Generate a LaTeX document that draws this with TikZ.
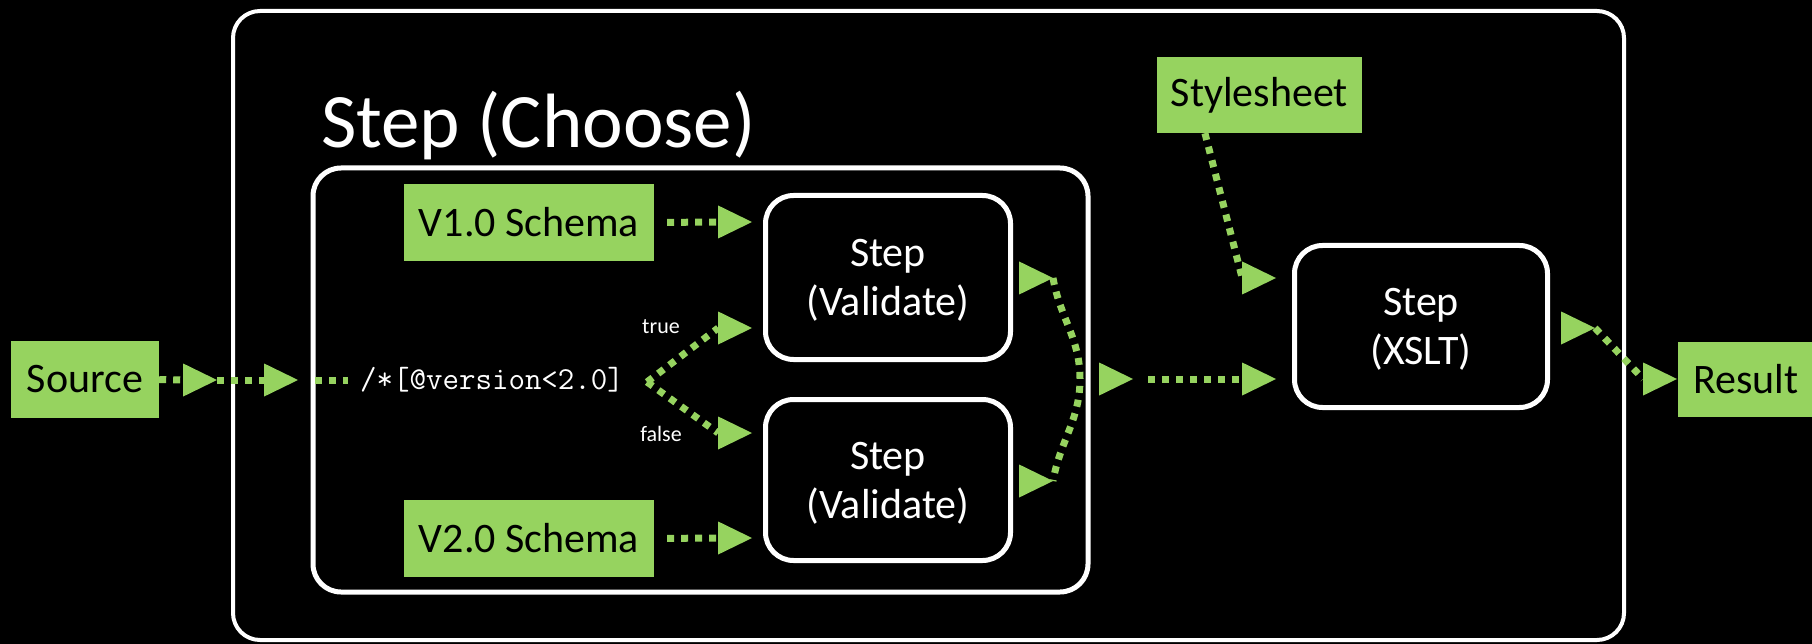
\documentclass[tikz,border=0pt]{standalone}
\usepackage{fontspec}
\setmainfont{Carlito}
\usetikzlibrary{shapes.geometric}
\definecolor{leaf}{RGB}{150,211,95}

\tikzset{
  stepbox/.style={draw=white, line width=5pt, rounded corners=28pt},
  steptext/.style={text=white, align=center, text depth=0pt, font=\fontsize{42}{49}\selectfont},
  databox/.style={fill=leaf, text=black, inner sep=0pt, font=\fontsize{42}{49}\selectfont},
  port/.style={isosceles triangle, isosceles triangle apex angle=52, fill=leaf,
    inner sep=0pt, outer sep=0pt, minimum height=33pt, minimum width=33pt, anchor=apex},
  link/.style={draw=leaf, line width=7pt, dash pattern=on 7pt off 7pt},
  branch/.style={text=white, inner sep=0pt, font=\fontsize{22}{22}\selectfont}
}

\begin{document}
\begin{tikzpicture}[x=1pt,y=1pt]
% background
\fill[black] (0,0) rectangle (1812,-644);
\useasboundingbox (0,0) rectangle (1812,-644);

% containers
\draw[white, line width=4pt, rounded corners=27pt] (233,-11) rectangle (1624,-640);
\node[anchor=base west, text=white, inner sep=0pt, font=\fontsize{77}{77}\selectfont] (choosetitle) at (321,-148) {Step (Choose)};
\draw[stepbox] (313,-168) rectangle (1088,-592);

% steps
\node[stepbox, steptext, minimum width=245pt, minimum height=164pt] (valA) at (888,-277.5) {Step\\(Validate)};
\node[stepbox, steptext, minimum width=245pt, minimum height=161pt] (valB) at (888,-480) {Step\\(Validate)};
\node[stepbox, steptext, minimum width=253pt, minimum height=162pt] (xslt) at (1421,-326.5) {Step\\(XSLT)};

% documents
\node[databox, minimum width=148pt, minimum height=77pt] (source) at (85,-379.5) {Source};
\node[databox, minimum width=250pt, minimum height=77pt] (schemaA) at (529,-222.5) {V1.0 Schema};
\node[databox, minimum width=250pt, minimum height=77pt] (schemaB) at (529,-538.5) {V2.0 Schema};
\node[databox, minimum width=205pt, minimum height=76pt] (sheet) at (1259.5,-95) {Stylesheet};
\node[databox, anchor=west, minimum height=75pt, text width=110pt, inner xsep=15pt] (result) at (1678,-379.5) {Result};

% ports
\foreach \n/\x/\y in {sOut/217/380, cIn/298/380, vaSch/752/222, vaSrc/752/328,
    vbSrc/752/433, vbSch/752/538, vaOut/1053/278, vbOut/1053/481, cOut/1133/379,
    xSh/1276/278, xSrc/1276/379, xOut/1595/328, rIn/1677/379}
  \node[port] (\n) at (\x,-\y) {};

% test and branches
\node[anchor=west, text=white, inner sep=0pt, font=\ttfamily\fontsize{32}{32}\selectfont] (test) at (360,-380) {/*[@version<2.0]};
\coordinate (split) at (647,-382);
\node[branch] (lblTrue) at (661,-327) {true};
\node[branch] (lblFalse) at (661,-434) {false};
\coordinate (merge) at (1080,-379);

% connectors
\draw[link] (source.east) -- (sOut.west);
\draw[link] (sOut.apex) -- (cIn.west);
\draw[link, shorten <=17pt, shorten >=12pt] (cIn.apex) -- (test.west);
\draw[link] (split) -- (vaSrc.west);
\draw[link] (split) -- (vbSrc.west);
\draw[link, shorten <=13pt] (schemaA.east) -- (vaSch.west);
\draw[link, shorten <=13pt] (schemaB.east) -- (vbSch.west);
\draw[link] (vaOut.apex) to[out=-80,in=90] (merge) to[out=-90,in=80] (vbOut.apex);
\draw[link, shorten <=15pt] (cOut.apex) -- (xSrc.west);
\draw[link] (sheet.215) -- (xSh.west);
\draw[link] (xOut.apex) -- (rIn.west);
\end{tikzpicture}
\end{document}
